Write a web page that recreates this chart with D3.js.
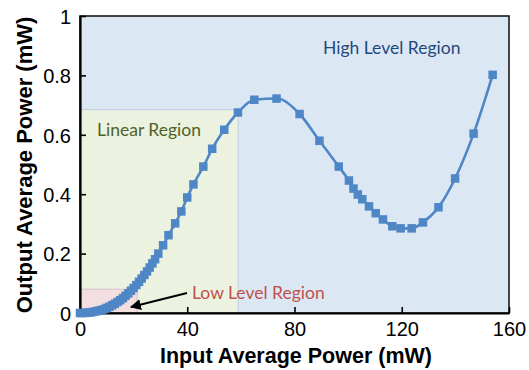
<!DOCTYPE html>
<html>
<head>
<meta charset="utf-8">
<script src="https://cdn.jsdelivr.net/npm/d3@7"></script>
<style>
  html, body { margin: 0; padding: 0; background: #ffffff; }
  svg { display: block; }
</style>
</head>
<body>
<svg id="chart" width="529" height="370"></svg>
<script>
// ---- Data ----
const inputPower = [0, 1, 2, 3, 4, 5, 6, 7, 8, 9, 10, 11, 12, 13, 14, 15, 16, 17, 18, 19, 20,
  21, 22, 23, 24, 25, 26, 27, 28, 29.2, 31, 33, 35.5, 37.8, 40, 42.3, 46, 49.3, 53.8, 58.9,
  65, 73.3, 81.9, 89.3, 96.5, 100.3, 102, 103.6, 105.3, 107.8, 110.3, 113, 116.5, 119.6,
  123.7, 127.9, 133.7, 139.9, 146.8, 153.9];
const outputPower = [0, 0.0001, 0.0004, 0.001, 0.002, 0.004, 0.006, 0.008, 0.010, 0.013, 0.017,
  0.021, 0.026, 0.031, 0.037, 0.043, 0.050, 0.058, 0.066, 0.075, 0.084,
  0.094, 0.105, 0.116, 0.128, 0.140, 0.153, 0.167, 0.181, 0.200, 0.228, 0.262, 0.302, 0.342, 0.389, 0.433, 0.493, 0.553, 0.617, 0.675,
  0.718, 0.722, 0.670, 0.580, 0.493, 0.446, 0.419, 0.399, 0.383, 0.359, 0.336, 0.315, 0.292, 0.285,
  0.285, 0.305, 0.356, 0.453, 0.604, 0.802];
const xTicks = [0, 40, 80, 120, 160];
const yTicks = [0, 0.2, 0.4, 0.6, 0.8, 1];
const yTickLabels = ["0", "0.2", "0.4", "0.6", "0.8", "1"];
// Regions: [xMax, yMax]
const regionNames = ["High Level Region", "Linear Region", "Low Level Region"];
const regionXMax = [160, 59, 21.3];
const regionYMax = [1, 0.685, 0.08];

// ---- Layout ----
const svg = d3.select("#chart");
const x = d3.scaleLinear().domain([0, 160]).range([80, 509]);
const y = d3.scaleLinear().domain([0, 1]).range([313, 16]);

const fills = ["#dce7f4", "#ecf2e0", "#f4dfe0"];
const edges = ["none", "#c5d3e6", "#d9c7d4"];

regionNames.forEach((name, i) => {
  svg.append("rect")
    .attr("x", x(0)).attr("y", y(regionYMax[i]))
    .attr("width", x(regionXMax[i]) - x(0))
    .attr("height", y(0) - y(regionYMax[i]))
    .attr("fill", fills[i])
    .attr("stroke", edges[i])
    .attr("stroke-width", 1.2);
});

// plot frame
svg.append("rect")
  .attr("x", x(0)).attr("y", y(1))
  .attr("width", x(160) - x(0)).attr("height", y(0) - y(1))
  .attr("fill", "none").attr("stroke", "#1a1a1a").attr("stroke-width", 1.6);

// axes
const xAxis = d3.axisBottom(x).tickValues(xTicks).tickSize(-6).tickPadding(8).tickSizeOuter(0);
const yAxis = d3.axisLeft(y).tickValues(yTicks).tickSize(-6).tickPadding(9).tickSizeOuter(0)
  .tickFormat((d, i) => yTickLabels[i]);

const gx = svg.append("g").attr("transform", `translate(0,${y(0)})`).call(xAxis);
const gy = svg.append("g").attr("transform", `translate(${x(0)},0)`).call(yAxis);
[gx, gy].forEach(g => {
  g.select(".domain").attr("stroke", "#000").attr("stroke-width", 2.2);
  g.selectAll(".tick line").attr("stroke", "#000").attr("stroke-width", 1.6);
  g.selectAll(".tick text")
    .attr("fill", "#000")
    .style("font-family", "'Liberation Sans', Arial, sans-serif")
    .style("font-size", "20px");
});
gx.selectAll(".tick text").attr("dy", "0.74em");
gy.selectAll(".tick text").attr("dy", "0.36em");

// region labels
const labelFont = "Lato, 'Open Sans', sans-serif";
svg.append("text").attr("x", 323).attr("y", 54).text(regionNames[0])
  .attr("fill", "#1f497d").style("font-family", labelFont).style("font-size", "17.5px");
svg.append("text").attr("x", 97).attr("y", 136).text(regionNames[1])
  .attr("fill", "#4f6228").style("font-family", labelFont).style("font-size", "17.5px");
svg.append("text").attr("x", 192).attr("y", 299).text(regionNames[2])
  .attr("fill", "#c0504d").style("font-family", labelFont).style("font-size", "17.5px");

// arrow
svg.append("defs").append("marker")
  .attr("id", "ah").attr("viewBox", "0 0 10 10").attr("refX", 9).attr("refY", 5)
  .attr("markerWidth", 5).attr("markerHeight", 5).attr("orient", "auto")
  .append("path").attr("d", "M0,0 L10,5 L0,10 Z").attr("fill", "#000");
svg.append("line")
  .attr("x1", 187).attr("y1", 293).attr("x2", 131).attr("y2", 307)
  .attr("stroke", "#000").attr("stroke-width", 2.2).attr("marker-end", "url(#ah)");

// series line
const pts = inputPower.map((v, i) => [v, outputPower[i]]);
const line = d3.line().x(d => x(d[0])).y(d => y(d[1])).curve(d3.curveMonotoneX);
svg.append("path").datum(pts).attr("d", line)
  .attr("fill", "none").attr("stroke", "#4f86c6").attr("stroke-width", 2.6);

const ms = 8.5;
svg.append("g").selectAll("rect").data(pts).join("rect")
  .attr("x", d => x(d[0]) - ms / 2).attr("y", d => y(d[1]) - ms / 2)
  .attr("width", ms).attr("height", ms)
  .attr("fill", "#4f86c6");

// axis titles
svg.append("text").attr("x", 296).attr("y", 363).attr("text-anchor", "middle")
  .text("Input Average Power (mW)")
  .style("font-family", "'Liberation Sans', Arial, sans-serif")
  .style("font-size", "21.5px").style("font-weight", "bold");
svg.append("text")
  .attr("transform", "translate(32,165) rotate(-90)").attr("text-anchor", "middle")
  .text("Output Average Power (mW)")
  .style("font-family", "'Liberation Sans', Arial, sans-serif")
  .style("font-size", "22px").style("font-weight", "bold");
</script>
</body>
</html>
